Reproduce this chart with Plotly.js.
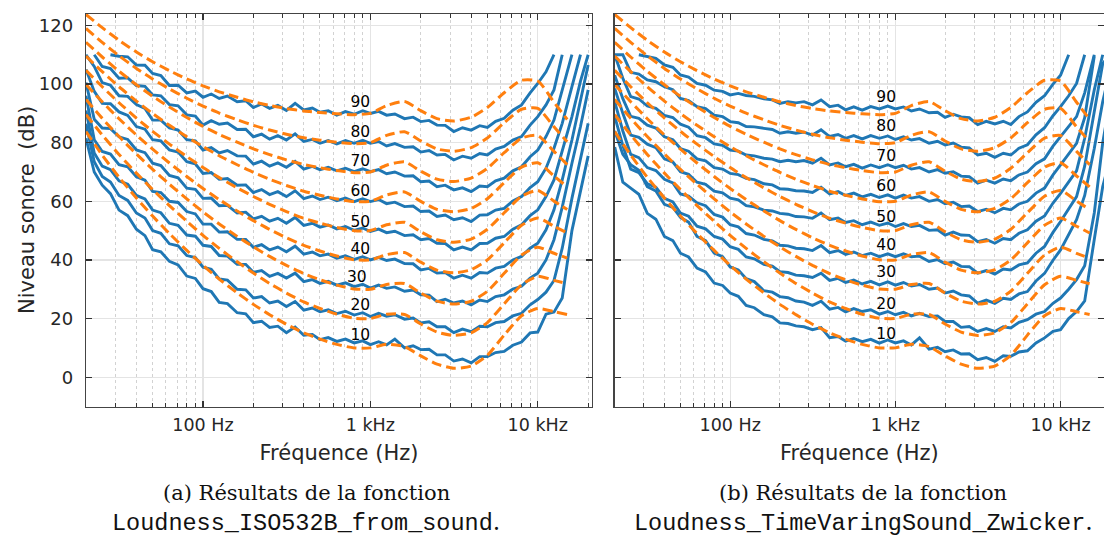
<!DOCTYPE html>
<html>
<head>
<meta charset="utf-8">
<script src="https://cdn.plot.ly/plotly-3.0.1.min.js"></script>
<style>html,body{margin:0;padding:0;background:#fff;}#chart{width:1104px;height:536px;}</style>
</head>
<body>
<div id="chart"></div>
<script>
// ---------- Data ----------
// Frequency grid of the model curves (Hz)
const freq = [20, 22.4, 25, 28, 31.5, 35.5, 40, 45, 50, 56, 63, 71, 80, 90, 100, 112, 125, 140, 160, 180, 200, 224, 250, 280, 315, 355, 400, 450, 500, 560, 630, 710, 800, 900, 1000, 1120, 1250, 1400, 1600, 1800, 2000, 2240, 2500, 2800, 3150, 3550, 4000, 4500, 5000, 5600, 6300, 7100, 8000, 9000, 10000, 11200, 12500, 14000, 16000, 18000, 20000];

// (a) Loudness_ISO532B_from_sound : sound levels (dB) of the contours 10..90
const a10 = [81.5, 70, 65.5, 62.6, 57, 55.1, 50.5, 48.3, 43.5, 42.8, 39.5, 38.3, 34.5, 33.7, 30.2, 29.2, 25.5, 25.1, 22, 21.6, 18.6, 19.1, 17, 17.4, 15.2, 17.1, 14.3, 14.6, 12.8, 13.5, 12.2, 13.0, 11.7, 12.4, 11.1, 12.1, 11.0, 13.0, 10.0, 10.7, 9.4, 9.5, 7.6, 7.6, 5.5, 6.2, 4.9, 7.0, 7.0, 8.4, 8.8, 10.9, 12.0, 15.1, 15.4, 21.5, 22.2, 27, 50, 63, 75.5];
const a20 = [86.5, 73.5, 68.5, 66.6, 62, 60.3, 56, 54.3, 50, 49.1, 45.5, 44.8, 41.5, 40.8, 37.5, 36.8, 33.5, 33.1, 30, 29.8, 27, 27.5, 25.3, 26.0, 24.1, 25.8, 22.9, 23.6, 22.3, 23.0, 21.7, 22.5, 21.2, 22.0, 20.7, 21.8, 20.8, 21.3, 19.8, 20.2, 18.5, 18.9, 17.2, 17.2, 15.2, 16.4, 15.5, 17.4, 17.2, 18.6, 19.0, 20.9, 21.8, 24.7, 26.5, 29, 33, 44, 61, 74, 86.6];
const a30 = [91, 76.5, 72, 70.8, 67, 65.8, 62, 60.8, 57, 56.1, 52.5, 51.8, 48.5, 48.1, 45, 44.6, 41.5, 41.3, 38.5, 38.5, 35.8, 36.4, 34.4, 35.4, 33.8, 35.5, 32.6, 33.3, 32.0, 32.7, 31.4, 32.2, 30.9, 31.7, 30.4, 31.4, 30.3, 30.8, 29.3, 29.7, 28.1, 28.0, 25.8, 26.6, 25.3, 26.0, 24.7, 26.3, 25.8, 27.5, 28.1, 30.1, 31.0, 33.8, 35.5, 40.0, 46.9, 58, 73, 85.5, 98];
const a40 = [96, 81, 77, 76.1, 72.5, 71.8, 68.4, 67.2, 63.4, 63.0, 60, 59.6, 56.5, 55.7, 52.2, 52.2, 49.5, 49.6, 47, 47.0, 44.3, 45.2, 43.4, 44.4, 42.8, 44.7, 42, 42.7, 41.4, 42.0, 40.6, 41.4, 40.2, 41.1, 40.0, 40.9, 39.8, 40.3, 38.8, 38.7, 36.6, 37.1, 35.5, 35.7, 33.8, 34.8, 33.8, 35.7, 35.5, 37.2, 37.8, 40.0, 41.2, 44.0, 45.7, 50.3, 57.1, 67.3, 80.9, 94.6, 106.5];
const a50 = [100.5, 88, 85, 84.8, 82, 81.1, 77.5, 76.6, 73, 72.2, 68.8, 68.0, 64.5, 64.1, 61, 61.1, 58.5, 58.6, 56, 56.3, 54, 54.9, 53.2, 54.2, 52.5, 54.5, 51.8, 52.5, 51.2, 51.9, 50.6, 51.4, 50.1, 50.9, 49.7, 50.5, 49.3, 49.8, 48.3, 48.6, 46.9, 47.3, 45.7, 45.6, 43.4, 44.4, 43.4, 45.6, 45.7, 47.4, 48, 50.5, 52, 55.1, 57.1, 61.6, 67.3, 77.5, 88.9, 101, 110];
const a60 = [105, 97.5, 93.4, 93.3, 90.5, 89.3, 85.5, 84.6, 81, 80.6, 77.5, 76.8, 73.5, 72.8, 69.5, 69.8, 67.5, 67.8, 65.5, 65.6, 63, 64.0, 62.3, 63.3, 61.6, 63.6, 60.9, 61.8, 60.6, 61.4, 60.2, 61.1, 59.9, 60.9, 59.9, 60.6, 59.2, 59.7, 58.2, 58.4, 56.5, 56.7, 54.8, 55.3, 53.7, 54.4, 53.1, 55.3, 55.4, 57.0, 57.6, 60.1, 61.6, 64.7, 66.7, 71.3, 78.1, 86.6, 99.1, 110, null];
const a70 = [110, 106, 100.5, 99.6, 96, 95.8, 93, 91.7, 87.7, 87.7, 85, 84.3, 81, 80.6, 77.5, 78.3, 76.5, 77.3, 75.5, 75.4, 72.7, 73.7, 72.0, 73.1, 71.6, 73.6, 71.0, 71.9, 70.8, 71.6, 70.4, 71.3, 70.1, 71.1, 70.1, 70.8, 69.4, 70.0, 68.6, 68.7, 66.7, 66.9, 65.0, 65.5, 63.9, 64.6, 63.3, 65.2, 65.0, 67.0, 67.9, 70.4, 71.8, 75.2, 77.5, 82.1, 87.7, 98, 110, null, null];
const a80 = [null, 110, 106, 105.3, 102, 102.1, 99.5, 99.2, 96.3, 96.0, 93, 92.6, 89.5, 89.1, 86, 87.5, 86.3, 86.7, 84.5, 84.6, 82, 82.9, 81.2, 82.4, 80.9, 83.0, 80.4, 81.1, 79.8, 80.7, 79.6, 80.7, 79.8, 80.8, 79.8, 80.4, 78.9, 79.7, 78.4, 78.6, 76.8, 77.3, 75.8, 76.0, 74.1, 75.4, 74.7, 76.3, 75.8, 77.8, 78.7, 80.9, 82.1, 86.0, 88.9, 92.9, 98, 110, null, null, null];
const a90 = [null, null, null, 110, 109.5, 109.3, 106.5, 106.4, 103.6, 102.9, 99.5, 99.6, 97, 97.6, 95.5, 96.6, 95.1, 95.9, 94, 94.3, 92, 93.2, 91.7, 92.7, 91.0, 93.4, 91.2, 91.8, 90.4, 90.9, 89.4, 90.6, 89.7, 90.9, 90.0, 90.7, 89.4, 89.8, 88.2, 88.7, 87.2, 87.6, 86.0, 85.9, 83.8, 85.1, 84.3, 85.8, 85.2, 87.3, 88.3, 91.1, 92.9, 97.0, 100.2, 104.2, 110, null, null, null, null];

// (b) Loudness_TimeVaringSound_Zwicker : sound levels (dB) of the contours 10..90
const b10 = [78.5, 66.5, 64.5, 62.4, 55.9, 53.9, 48.0, 46.6, 42.3, 41.0, 37.2, 35.9, 32.1, 31.3, 28.7, 27.6, 24.5, 23.7, 21.3, 20.6, 18.5, 18.3, 17.5, 17.2, 16.2, 16.9, 13.5, 13.9, 12.3, 13.2, 12.1, 12.9, 11.6, 12.7, 11.7, 12.4, 11.0, 13.4, 9.6, 10.2, 8.7, 9.3, 7.9, 8.0, 6.0, 6.7, 5.4, 7.3, 7.1, 8.6, 9.0, 11.7, 13.4, 15.6, 16.2, 20, 22.4, 26, 47, 65, 75];
const b20 = [84, 76, 72.5, 70.6, 65.0, 63.5, 59.0, 57.9, 54.5, 52.9, 48.0, 46.6, 42.3, 41.1, 37.6, 36.6, 33.6, 32.6, 29.5, 29.0, 27.5, 27.1, 26.0, 25.6, 24.5, 25.9, 23.2, 23.8, 22.3, 23.4, 22.4, 23.0, 21.5, 22.4, 21.3, 22.1, 20.9, 21.8, 20.7, 20.9, 19.0, 19.0, 17.0, 17.3, 15.6, 16.6, 15.6, 17.2, 16.8, 18.7, 19.6, 21.5, 22.4, 25.2, 27.0, 30, 33.3, 38, 56, 80, 95];
const b30 = [89, 79, 71, 69.8, 66, 64.8, 61, 59.8, 56, 54.9, 51.5, 50.6, 48, 47.1, 44.5, 43.6, 41, 40.4, 38.5, 37.9, 36, 35.7, 34.8, 34.6, 34, 35.5, 33, 33.7, 32.3, 33.1, 31.8, 32.7, 31.5, 32.5, 31.4, 32.3, 31.1, 31.6, 30.0, 30.4, 28.7, 29.4, 28.1, 27.7, 25.3, 26.3, 25.2, 26.9, 26.5, 28.4, 29.2, 32.8, 35.4, 39.9, 43.4, 48.5, 53.7, 62, 78, 94, 105];
const b40 = [94, 84, 76, 74.9, 71.5, 70.5, 67.5, 66.3, 62.5, 61.8, 59.5, 58.5, 55.5, 54.6, 52, 51.3, 49, 48.5, 47, 46.5, 45, 44.8, 44, 43.8, 43.2, 44.9, 42.5, 43.2, 41.9, 42.7, 41.5, 42.3, 41.1, 42.1, 41.1, 42.1, 41.1, 41.3, 39.5, 40.1, 38.7, 39.3, 37.8, 37.7, 35.5, 36.4, 35.2, 36.9, 36.6, 38.3, 39.0, 42.3, 44.6, 49.4, 53.1, 57.5, 61.6, 72, 90, 107, 110];
const b50 = [98.5, 90, 82.6, 81.8, 79.5, 78.3, 74.5, 73.4, 70.1, 69.2, 66.5, 65.8, 63.5, 62.9, 61.1, 60.5, 58.5, 58.1, 57, 56.7, 55.9, 55.6, 54.8, 54.7, 54.2, 56.0, 53.7, 54.3, 52.8, 53.4, 52.0, 52.9, 51.8, 52.6, 51.4, 52.4, 51.4, 51.8, 50.1, 50.3, 48.5, 49.5, 48.5, 48.4, 46.2, 47.0, 45.7, 47.3, 46.9, 49.1, 50.3, 53.2, 55.0, 59.4, 62.7, 66.5, 70.4, 81.5, 98, 110, null];
const b60 = [103, 95, 89, 88.3, 86, 85.0, 82, 81.0, 78, 77.1, 74.5, 73.8, 71.5, 71.0, 69.5, 69.1, 67.8, 67.4, 66, 65.6, 64.3, 64.1, 63.6, 63.5, 63, 64.8, 62.5, 63.3, 62, 62.8, 61.5, 62.4, 61.3, 62.2, 61.1, 62.1, 61.1, 61.6, 60.0, 60.6, 59.2, 59.7, 58.2, 58.4, 56.5, 57.3, 56.1, 57.6, 57.1, 59.1, 60.0, 62.8, 64.5, 69.0, 72.4, 76, 79.8, 88.5, 109.5, null, null];
const b70 = [110, 102, 95.7, 94.9, 92.5, 91.7, 89.3, 88.6, 86.3, 85.3, 82.4, 81.7, 79.6, 79.1, 77.5, 77.1, 75.8, 75.5, 74.7, 74.4, 73.5, 74.0, 73.5, 73.9, 73.0, 74.7, 72.4, 73.1, 71.8, 72.6, 71.3, 72.4, 71.5, 72.5, 71.5, 72.3, 71.0, 71.5, 70.0, 70.8, 69.6, 70.1, 68.6, 68.4, 66.2, 67.2, 66.2, 67.6, 67.0, 69.0, 70.0, 72.8, 74.5, 78.8, 82.1, 85.5, 88.9, 97, 110, null, null];
const b80 = [110, 110, 104, 103.4, 101.4, 100.8, 99.1, 98.1, 95.1, 94.4, 92.3, 91.6, 89.4, 88.9, 87.2, 86.8, 85.5, 85.4, 84.9, 84.5, 83.2, 83.7, 83.2, 83.6, 82.6, 84.4, 82.1, 82.8, 81.5, 82.4, 81.3, 82.4, 81.5, 82.3, 81.1, 82.0, 80.9, 81.4, 79.8, 80.5, 79.2, 79.9, 78.5, 78.2, 75.8, 76.4, 75.0, 76.4, 75.8, 78.1, 79.3, 82.7, 85.1, 89.2, 92.3, 96, 100.2, 110, null, null, null];
const b90 = [null, null, null, 110, 109.5, 108.8, 106.5, 105.7, 103.1, 102.4, 100.2, 99.6, 97.9, 97.5, 96.3, 96.8, 96.1, 95.8, 95.0, 94.6, 93.4, 94.0, 93.6, 94.0, 92.9, 94.6, 92.3, 92.8, 91.2, 92.2, 91.1, 92.3, 91.5, 92.5, 91.5, 92.2, 90.8, 91.5, 90.2, 90.4, 88.6, 89.7, 88.8, 88.5, 86.2, 87.3, 86.4, 87.3, 86.2, 88.9, 90.5, 93.8, 96, 100.0, 103, 110, null, null, null, null, null];

// ISO 226 equal-loudness reference contours (dashed)
const isoFreq = [20, 25, 31.5, 40, 50, 63, 80, 100, 125, 160, 200, 250, 315, 400, 500, 630, 800, 1000, 1250, 1600, 2000, 2500, 3150, 4000, 5000, 6300, 8000, 10000, 12500, 15000];
const iso10 = [83.75, 75.76, 68.21, 61.14, 54.96, 49.01, 43.24, 38.13, 33.48, 28.77, 24.84, 21.33, 18.05, 15.14, 12.98, 11.18, 9.99, 10.00, 11.26, 10.43, 7.27, 4.45, 3.04, 3.80, 7.46, 14.35, 20.98, 23.43, 22.33, 21.4];
const iso20 = [89.58, 82.65, 75.98, 69.62, 64.02, 58.55, 53.19, 48.38, 43.94, 39.37, 35.51, 31.99, 28.69, 25.67, 23.43, 21.48, 20.10, 20.01, 21.46, 21.40, 18.15, 15.38, 14.26, 15.14, 18.63, 25.02, 31.52, 34.43, 33.04, 31.9];
const iso30 = [94.72, 88.30, 82.08, 76.13, 70.90, 65.82, 60.84, 56.38, 52.27, 48.04, 44.46, 41.20, 38.14, 35.33, 33.24, 31.41, 30.08, 30.01, 31.64, 31.96, 28.69, 25.95, 24.94, 25.90, 29.32, 35.43, 41.66, 44.36, 42.27, 40.6];
const iso40 = [99.85, 93.94, 88.17, 82.63, 77.78, 73.08, 68.48, 64.37, 60.59, 56.70, 53.41, 50.40, 47.58, 44.98, 43.05, 41.34, 40.06, 40.01, 41.82, 42.51, 39.23, 36.51, 35.61, 36.65, 40.01, 45.83, 51.80, 54.28, 51.49, 49.2];
const iso50 = [104.68, 99.09, 93.63, 88.40, 83.87, 79.51, 75.27, 71.51, 68.08, 64.59, 61.64, 58.97, 56.49, 54.22, 52.55, 51.08, 49.98, 50.01, 51.99, 52.85, 49.60, 46.89, 46.02, 47.11, 50.45, 56.10, 61.73, 63.72, 60.06, 57.2];
const iso60 = [109.51, 104.23, 99.08, 94.18, 89.96, 85.94, 82.05, 78.65, 75.56, 72.47, 69.86, 67.53, 65.39, 63.45, 62.05, 60.81, 59.89, 60.01, 62.15, 63.19, 59.96, 57.26, 56.42, 57.57, 60.89, 66.36, 71.66, 73.16, 68.63, 64.9];
const iso70 = [114.25, 109.23, 104.37, 99.76, 95.84, 92.15, 88.61, 85.57, 82.83, 80.15, 77.89, 75.92, 74.14, 72.57, 71.46, 70.49, 69.78, 70.01, 72.32, 73.47, 70.28, 67.57, 66.75, 67.94, 71.26, 76.59, 81.54, 82.45, 77.02, 72.5];
const iso80 = [118.99, 114.23, 109.65, 105.34, 101.72, 98.36, 95.17, 92.48, 90.09, 87.82, 85.92, 84.31, 82.89, 81.68, 80.86, 80.17, 79.67, 80.01, 82.48, 83.74, 80.59, 77.88, 77.07, 78.31, 81.62, 86.81, 91.41, 91.74, 85.41, 80.3];
const iso90 = [123.73, 119.23, 114.94, 110.92, 107.60, 104.57, 101.73, 99.40, 97.36, 95.50, 93.95, 92.70, 91.64, 90.80, 90.27, 89.85, 89.56, 90.00, 92.65, 94.02, 90.91, 88.19, 87.40, 88.68, 91.99, 97.04, 101.29, 101.03, 93.80, 87.9];

// Contour labels (phon)
const labelText = ["10", "20", "30", "40", "50", "60", "70", "80", "90"];
const labelFreqA = [871, 871, 830, 871, 871, 871, 871, 871, 871];
const labelLevelA = [14.1, 24.1, 33.8, 43.4, 52.7, 63.0, 73.5, 83.4, 93.6];
const labelFreqB = [880, 880, 880, 880, 880, 880, 880, 880, 880];
const labelLevelB = [14.5, 24.7, 35.5, 44.8, 54.4, 64.7, 75.2, 85.2, 95.1];

// Axis ticks
const majorTickVals = [100, 1000, 10000];
const majorTickText = ["100 Hz", "1 kHz", "10 kHz"];
const minorTickVals = [20, 30, 40, 50, 60, 70, 80, 90, 200, 300, 400, 500, 600, 700, 800, 900, 2000, 3000, 4000, 5000, 6000, 7000, 8000, 9000, 20000];
const yTickVals = [0, 20, 40, 60, 80, 100, 120];

// ---------- Traces ----------
const BLUE = '#1f77b4', ORANGE = '#ff7f0e';
const seriesA = [a10, a20, a30, a40, a50, a60, a70, a80, a90];
const seriesB = [b10, b20, b30, b40, b50, b60, b70, b80, b90];
const isoSeries = [iso10, iso20, iso30, iso40, iso50, iso60, iso70, iso80, iso90];
seriesA.concat(seriesB).forEach((s, i) => { if (s.length !== freq.length) console.error('length mismatch', i, s.length); });

const traces = [];
function addPanel(series, xa, ya, lf, ll) {
  series.forEach(s => traces.push({
    x: freq, y: s, xaxis: xa, yaxis: ya, type: 'scatter', mode: 'lines',
    line: {color: BLUE, width: 2.9}, connectgaps: false, hoverinfo: 'skip'
  }));
  isoSeries.forEach(s => traces.push({
    x: isoFreq, y: s, xaxis: xa, yaxis: ya, type: 'scatter', mode: 'lines',
    line: {color: ORANGE, width: 3, dash: '10px,5px', shape: 'spline', smoothing: 0.6}, hoverinfo: 'skip'
  }));
  traces.push({
    x: lf, y: ll, text: labelText, xaxis: xa, yaxis: ya, type: 'scatter', mode: 'text',
    textfont: {family: 'DejaVu Sans', size: 15.5, color: '#000'}, textposition: 'middle center', hoverinfo: 'skip'
  });
}
addPanel(seriesA, 'x', 'y', labelFreqA, labelLevelA);
addPanel(seriesB, 'x2', 'y2', labelFreqB, labelLevelB);

// ---------- Layout ----------
const W = 1104, H = 536;
function xAxis(domain, range) {
  return {
    type: 'log', domain: domain, range: range, anchor: domain[0] < 0.5 ? 'y' : 'y2',
    tickmode: 'array', tickvals: majorTickVals, ticktext: majorTickText,
    ticks: 'inside', ticklen: 6, tickwidth: 1.2, tickcolor: '#333',
    ticklabelstandoff: 2,
    showline: true, linecolor: '#444', linewidth: 1.3, mirror: 'ticks',
    showgrid: true, gridcolor: '#e4e4e4', gridwidth: 1.2, zeroline: false,
    tickfont: {family: 'DejaVu Sans', size: 17.5, color: '#262626'},
    title: {text: 'Fréquence (Hz)', font: {family: 'DejaVu Sans', size: 21, color: '#262626'}, standoff: 11},
    minor: {tickmode: 'array', tickvals: minorTickVals, ticks: 'inside', ticklen: 3.5, tickwidth: 1, tickcolor: '#333',
            showgrid: true, gridcolor: '#d2d2d2', griddash: 'dot', gridwidth: 1},
    fixedrange: true
  };
}
function yAxis(domain, anchor, labels) {
  return {
    domain: domain, range: [-10, 123.9], anchor: anchor,
    tickmode: 'array', tickvals: yTickVals,
    ticks: 'inside', ticklen: 6, tickwidth: 1.2, tickcolor: '#333',
    ticklabelstandoff: 8, showticklabels: labels,
    showline: true, linecolor: '#444', linewidth: 1.3, mirror: 'ticks',
    showgrid: true, gridcolor: '#e4e4e4', gridwidth: 1.2, zeroline: false,
    tickfont: {family: 'DejaVu Sans', size: 18, color: '#262626'},
    fixedrange: true
  };
}
const yDom = [1 - 406.5 / H, 1 - 14 / H];
const layout = {
  width: W, height: H,
  margin: {l: 0, r: 0, t: 0, b: 0, pad: 0},
  paper_bgcolor: '#fff', plot_bgcolor: '#fff',
  showlegend: false,
  font: {family: 'DejaVu Sans', color: '#262626'},
  xaxis: xAxis([86 / W, 592 / W], [Math.log10(20), 4.324]),
  yaxis: yAxis(yDom, 'x', true),
  xaxis2: xAxis([614.7 / W, 1], [Math.log10(20), 4.263]),
  yaxis2: yAxis(yDom, 'x2', false),
  annotations: [
    {text: 'Niveau sonore\u00a0 (dB)', textangle: -90, x: 27 / W, y: 1 - 210 / H, xref: 'paper', yref: 'paper', xanchor: 'center', yanchor: 'middle', showarrow: false,
     font: {family: 'DejaVu Sans', size: 21, color: '#262626'}},
    {text: '(a) Résultats de la fonction', x: 306 / W, y: 1 - 493 / H, xref: 'paper', yref: 'paper', xanchor: 'center', yanchor: 'middle', showarrow: false,
     font: {family: 'DejaVu Serif', size: 21, color: '#111'}},
    {text: "Loudness_ISO532B_from_sound<span style='font-family:DejaVu Serif'>.</span>", x: 306 / W, y: 1 - 522 / H, xref: 'paper', yref: 'paper', xanchor: 'center', yanchor: 'middle', showarrow: false,
     font: {family: 'Liberation Mono', size: 23.5, color: '#111'}},
    {text: '(b) Résultats de la fonction', x: 863 / W, y: 1 - 493 / H, xref: 'paper', yref: 'paper', xanchor: 'center', yanchor: 'middle', showarrow: false,
     font: {family: 'DejaVu Serif', size: 21, color: '#111'}},
    {text: "Loudness_TimeVaringSound_Zwicker<span style='font-family:DejaVu Serif'>.</span>", x: 863 / W, y: 1 - 522 / H, xref: 'paper', yref: 'paper', xanchor: 'center', yanchor: 'middle', showarrow: false,
     font: {family: 'Liberation Mono', size: 23.5, color: '#111'}}
  ]
};

Plotly.newPlot('chart', traces, layout, {displayModeBar: false, staticPlot: true});
</script>
</body>
</html>
